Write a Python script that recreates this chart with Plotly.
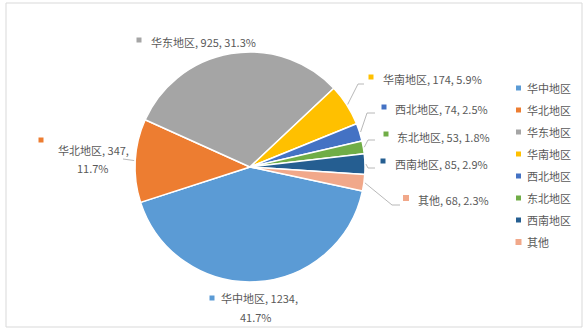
from decimal import Decimal, ROUND_HALF_UP
import math
import plotly.graph_objects as go

# Regional breakdown
regions = ["华中地区", "华北地区", "华东地区", "华南地区", "西北地区", "东北地区", "西南地区", "其他"]
counts = [1234, 347, 925, 174, 74, 53, 85, 68]
colors = ["#5B9BD5", "#ED7D31", "#A5A5A5", "#FFC000", "#4472C4", "#70AD47", "#255E91", "#F1A88A"]

W, H = 586, 332
FONT = "Microsoft YaHei, Noto Sans CJK SC, sans-serif"
TXT = "#595959"
LEADER = "#A6A6A6"

# pie geometry (pixels)
CX, CY, R = 250, 167, 115
ROT = 102


def px(x):
    return x / W


def py(y):
    return 1 - y / H


total = sum(counts)


def pct(v):
    return str(Decimal(v * 100 / total).quantize(Decimal("0.1"), rounding=ROUND_HALF_UP)) + "%"


# mid-angle of each slice (clockwise from 12 o'clock)
mid_pts = []
acc = 0
for v in counts:
    a = math.radians(ROT + 360 * (acc + v / 2) / total)
    mid_pts.append((CX + (R + 1) * math.sin(a), CY - (R + 1) * math.cos(a)))
    acc += v

fig = go.Figure(go.Pie(
    labels=regions,
    values=counts,
    sort=False,
    direction="clockwise",
    rotation=ROT,
    marker=dict(colors=colors, line=dict(color="white", width=1.5)),
    textinfo="none",
    showlegend=False,
    domain=dict(x=[px(CX - R), px(CX + R)], y=[py(CY + R), py(CY - R)]),
))

shapes = []
annotations = []


def square(x, y, color, s=5):
    shapes.append(dict(type="rect", xref="paper", yref="paper",
                       x0=px(x - s / 2), x1=px(x + s / 2),
                       y0=py(y + s / 2), y1=py(y - s / 2),
                       fillcolor=color, line=dict(width=0)))


def text(x, y, t, anchor="left", size=11):
    annotations.append(dict(x=px(x), y=py(y), xref="paper", yref="paper",
                            text=t, showarrow=False, xanchor=anchor, yanchor="middle",
                            font=dict(family=FONT, size=size, color=TXT)))


# data-label layout: marker position, text position, leader elbow points
label_layout = {
    "华东地区": dict(mk=(139, 40), tx=(149, 42), leader=None),
    "华南地区": dict(mk=(371, 77), tx=(381, 79), leader=[(358, 84), (364, 84)]),
    "西北地区": dict(mk=(384, 107), tx=(393, 109), leader=[(367, 113), (375, 113)]),
    "东北地区": dict(mk=(386, 134), tx=(395, 137), leader=[(368, 140), (375, 140)]),
    "西南地区": dict(mk=(383, 161), tx=(393, 164), leader=[(368, 168), (375, 168)]),
    "其他": dict(mk=(406, 198), tx=(416, 200), leader=[(392, 205), (400, 205)]),
}

for i, (name, v, c) in enumerate(zip(regions, counts, colors)):
    lbl = f"{name}, {v}, {pct(v)}"
    if name in label_layout:
        L = label_layout[name]
        square(*L["mk"], c, 6 if name == "其他" else 5)
        text(*L["tx"], lbl)
        if L["leader"]:
            pts = [mid_pts[i]] + L["leader"]
            path = "M " + " L ".join(f"{px(x)},{py(y)}" for x, y in pts)
            shapes.append(dict(type="path", xref="paper", yref="paper", path=path,
                               line=dict(color=LEADER, width=0.8)))

# two-line labels
i = regions.index("华北地区")
square(41, 140, colors[i])
text(93, 150, f"{regions[i]}, {counts[i]},", anchor="center")
text(93, 168, pct(counts[i]), anchor="center")
pts = [mid_pts[i], (123, 159)]
shapes.append(dict(type="path", xref="paper", yref="paper",
                   path="M " + " L ".join(f"{px(x)},{py(y)}" for x, y in pts),
                   line=dict(color=LEADER, width=0.8)))

i = regions.index("华中地区")
square(212, 298, colors[i])
text(259, 298, f"{regions[i]}, {counts[i]},", anchor="center")
text(256, 317, pct(counts[i]), anchor="center")

# legend
for k, (name, c) in enumerate(zip(regions, colors)):
    y = 88 + 22 * k
    square(518.5, y, c, 6 if name == "其他" else 5)
    text(525, y, name)

# chart-area border
shapes.append(dict(type="rect", xref="paper", yref="paper",
                   x0=px(6), x1=px(582), y0=py(327), y1=py(3),
                   line=dict(color="#D9D9D9", width=1), fillcolor="rgba(0,0,0,0)"))

fig.update_layout(
    width=W, height=H,
    margin=dict(l=0, r=0, t=0, b=0),
    paper_bgcolor="white",
    plot_bgcolor="white",
    shapes=shapes,
    annotations=annotations,
    font=dict(family=FONT, color=TXT),
)

fig.write_html("out.html")
